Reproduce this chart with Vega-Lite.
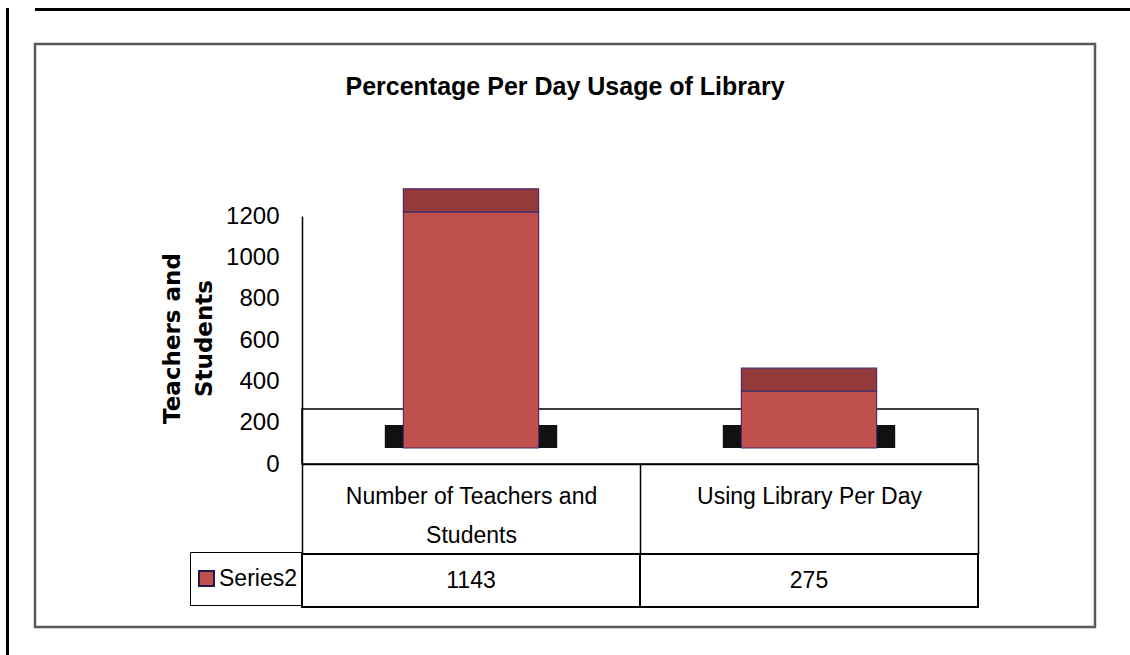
{
  "$schema": "https://vega.github.io/schema/vega-lite/v6.json",
  "autosize": {"type": "pad"},
  "padding": {"left": 6, "top": 8, "right": 0, "bottom": 0},
  "background": "white",
  "config": {"view": {"stroke": null}},
  "spacing": 24,
  "hconcat": [
    {
      "width": 3, "height": 647,
      "data": {"values": []},
      "mark": {"type": "point", "opacity": 0},
      "encoding": {},
      "view": {"fill": "black", "stroke": null}
    },
    {
      "spacing": 31,
      "vconcat": [
        {
          "width": 1097, "height": 3,
          "data": {"values": []},
          "mark": {"type": "point", "opacity": 0},
          "encoding": {},
          "view": {"fill": "black", "stroke": null}
        },
        {
          "width": 1060, "height": 583,
          "view": {"stroke": "#5a5a5a", "strokeWidth": 2.5},
          "title": {"text": "Percentage Per Day Usage of Library", "offset": -76, "baseline": "alphabetic", "anchor": "middle", "frame": "group", "font": "Liberation Sans", "fontSize": 25, "fontWeight": "bold", "color": "black"},
          "data": {"values": [
            {"category": "Number of Teachers and Students", "series": "Series2", "value": 1143},
            {"category": "Using Library Per Day", "series": "Series2", "value": 275}
          ]},
          "layer": [
            {
              "layer": [
                {
                  "data": {"values": [{"k": 1}]},
                  "mark": {"type": "rect", "fill": "transparent", "stroke": "black", "strokeWidth": 1.5, "yOffset": -55},
                  "encoding": {
                    "x": {"datum": "Number of Teachers and Students", "bandPosition": 0},
                    "x2": {"datum": "Using Library Per Day", "bandPosition": 1},
                    "y": {"datum": 0},
                    "y2": {"datum": 0}
                  }
                },
                {
                  "mark": {"type": "bar", "color": "#111111", "width": {"band": 0.51}, "yOffset": -39, "y2Offset": -16},
                  "encoding": {
                    "x": {"field": "category", "type": "nominal"},
                    "y": {"datum": 0},
                    "y2": {"datum": 0}
                  }
                },
                {
                  "mark": {"type": "bar", "width": {"band": 0.4}, "yOffset": -16, "y2Offset": -16, "stroke": "#4a2b6b", "strokeWidth": 1.2},
                  "encoding": {
                    "x": {
                      "field": "category", "type": "nominal", "sort": null,
                      "scale": {"range": [267, 943], "paddingInner": 0, "paddingOuter": 0},
                      "axis": {
                        "orient": "bottom", "offset": -163, "title": null,
                        "domain": true, "domainColor": "black", "domainWidth": 1.5,
                        "ticks": true, "tickBand": "extent", "tickSize": 90, "tickColor": "black", "tickWidth": 1.5,
                        "labelExpr": "datum.label == 'Number of Teachers and Students' ? ['Number of Teachers and', 'Students'] : datum.label",
                        "labelFont": "Liberation Sans", "labelFontSize": 23, "labelColor": "black", "labelAlign": "center",
                        "labelBaseline": "top", "labelPadding": -69, "labelLineHeight": 39, "labelAngle": 0, "labelLimit": 0, "grid": false
                      }
                    },
                    "y": {
                      "field": "value", "type": "quantitative",
                      "scale": {"domain": [0, 1200], "range": [420, 172], "nice": false},
                      "axis": {
                        "orient": "left", "offset": -267, "values": [0, 200, 400, 600, 800, 1000, 1200], "format": "d",
                        "grid": false, "ticks": false, "domain": true, "domainColor": "black", "domainWidth": 1.5,
                        "labelFont": "Liberation Sans", "labelFontSize": 24, "labelColor": "black", "labelPadding": 23,
                        "title": ["Teachers and", "Students"], "titleFont": "DejaVu Sans", "titleFontSize": 23, "titleFontWeight": "bold", "titleColor": "black",
                        "titleAngle": 270, "titleX": -130, "titleY": 294, "titleAlign": "center", "titleBaseline": "middle", "titleLineHeight": 32
                      }
                    },
                    "color": {
                      "field": "series", "type": "nominal",
                      "scale": {"range": ["#c0504d"]},
                      "legend": {
                        "orient": "none", "legendX": 184, "legendY": 544, "title": null,
                        "symbolType": "square", "symbolSize": 225, "symbolStrokeColor": "#1d1a4a", "symbolStrokeWidth": 2,
                        "labelFont": "Liberation Sans", "labelFontSize": 23, "labelColor": "black", "labelOffset": 1,
                        "padding": 5, "strokeColor": "black", "clipHeight": 43
                      }
                    }
                  }
                },
                {
                  "mark": {"type": "bar", "width": {"band": 0.4}, "yOffset": -39, "y2Offset": -16, "fill": "#933b3b", "stroke": "#4a2b6b", "strokeWidth": 1.2},
                  "encoding": {
                    "x": {"field": "category", "type": "nominal"},
                    "y": {"field": "value", "type": "quantitative"},
                    "y2": {"field": "value"}
                  }
                }
              ]
            },
            {
              "layer": [
                {
                  "mark": {"type": "rect", "fill": "transparent", "stroke": "black", "strokeWidth": 2},
                  "encoding": {
                    "x": {"field": "category", "type": "nominal"},
                    "y": {"field": "series", "type": "nominal", "scale": {"range": [510, 563], "paddingInner": 0, "paddingOuter": 0}, "axis": null}
                  }
                },
                {
                  "mark": {"type": "text", "font": "Liberation Sans", "fontSize": 23, "color": "black", "baseline": "middle"},
                  "encoding": {
                    "x": {"field": "category", "type": "nominal"},
                    "y": {"field": "series", "type": "nominal"},
                    "text": {"field": "value", "type": "quantitative", "format": "d"}
                  }
                }
              ]
            }
          ],
          "resolve": {"scale": {"y": "independent"}}
        }
      ]
    }
  ]
}
